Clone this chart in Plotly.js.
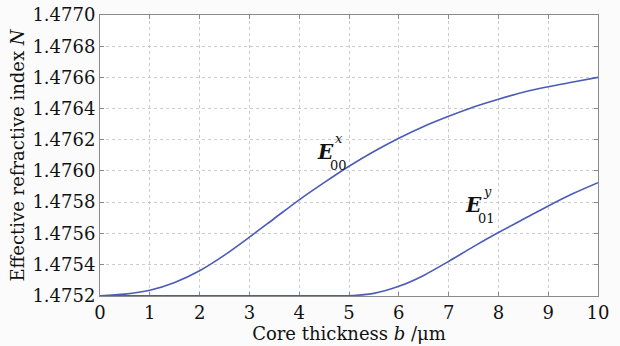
<!DOCTYPE html>
<html>
<head>
<meta charset="utf-8">
<script src="https://cdn.plot.ly/plotly-3.0.1.min.js"></script>
<style>html,body{margin:0;padding:0;background:#fbfbfb;}#chart{width:620px;height:346px;}</style>
</head>
<body>
<div id="chart"></div>
<script>
const thickness = [0, 0.5, 1, 1.5, 2, 2.5, 3, 3.5, 4, 4.5, 5, 5.5, 6, 6.5, 7, 7.5, 8, 8.5, 9, 9.5, 10];
const nE00x = [1.475200, 1.475210, 1.475235, 1.475285, 1.475360, 1.475460, 1.475575, 1.475695, 1.475815, 1.475925, 1.476030, 1.476125, 1.476210, 1.476285, 1.476350, 1.476410, 1.476460, 1.476505, 1.476540, 1.476570, 1.476600];
const nE01y = [1.475200, 1.475200, 1.475200, 1.475200, 1.475200, 1.475200, 1.475200, 1.475200, 1.475200, 1.475200, 1.475200, 1.475215, 1.475260, 1.475330, 1.475420, 1.475515, 1.475605, 1.475690, 1.475775, 1.475855, 1.475925];
const xTicks = [0,1,2,3,4,5,6,7,8,9,10];
const yTicks = [1.4752,1.4754,1.4756,1.4758,1.4760,1.4762,1.4764,1.4766,1.4768,1.4770];

const lineColor = '#4a5cb6';
const font = '"DejaVu Serif", serif';
const traces = [
  {x: thickness, y: nE00x, mode: 'lines', line: {color: lineColor, width: 1.6, shape: 'spline', smoothing: 0.8}, name: 'E00x'},
  {x: thickness, y: nE01y, mode: 'lines', line: {color: lineColor, width: 1.6, shape: 'spline', smoothing: 0.8}, name: 'E01y'}
];
const ax = {
  showline: true, linecolor: '#8a8a8a', linewidth: 1, mirror: 'ticks',
  ticks: 'inside', ticklen: 4, tickcolor: '#8a8a8a',
  showgrid: true, gridcolor: '#cccccc', griddash: 'dot', gridwidth: 1,
  zeroline: false, tickfont: {family: font, size: 18, color: '#111'}, layer: 'below traces'
};
const layout = {
  width: 620, height: 346,
  margin: {l: 100, r: 22, t: 15, b: 50},
  paper_bgcolor: '#fbfbfb', plot_bgcolor: '#ffffff',
  showlegend: false,
  xaxis: Object.assign({}, ax, {range: [0, 10], tickvals: xTicks, ticktext: xTicks.map(String),
    title: {text: 'Core thickness <i>b</i> /μm', font: {family: font, size: 18, color: '#111'}, standoff: 2}}),
  yaxis: Object.assign({}, ax, {range: [1.475198, 1.4770], tickvals: yTicks, ticktext: yTicks.map(v => v.toFixed(4)),
    title: {text: 'Effective refractive index <i>N</i>', font: {family: font, size: 18, color: '#111'}, standoff: 3}}),
  annotations: [
    {x: 4.52, y: 1.47612, xref: 'x', yref: 'y', text: '<b><i>E</i></b>', showarrow: false, font: {family: font, size: 20, color: '#111'}},
    {x: 4.8, y: 1.476205, xref: 'x', yref: 'y', text: '<i>x</i>', showarrow: false, font: {family: font, size: 13, color: '#111'}},
    {x: 4.78, y: 1.476035, xref: 'x', yref: 'y', text: '00', showarrow: false, font: {family: font, size: 13, color: '#111'}},
    {x: 7.5, y: 1.47578, xref: 'x', yref: 'y', text: '<b><i>E</i></b>', showarrow: false, font: {family: font, size: 20, color: '#111'}},
    {x: 7.78, y: 1.47587, xref: 'x', yref: 'y', text: '<i>y</i>', showarrow: false, font: {family: font, size: 13, color: '#111'}},
    {x: 7.76, y: 1.475695, xref: 'x', yref: 'y', text: '01', showarrow: false, font: {family: font, size: 13, color: '#111'}}
  ]
};
Plotly.newPlot('chart', traces, layout, {displayModeBar: false, staticPlot: true});
</script>
</body>
</html>
